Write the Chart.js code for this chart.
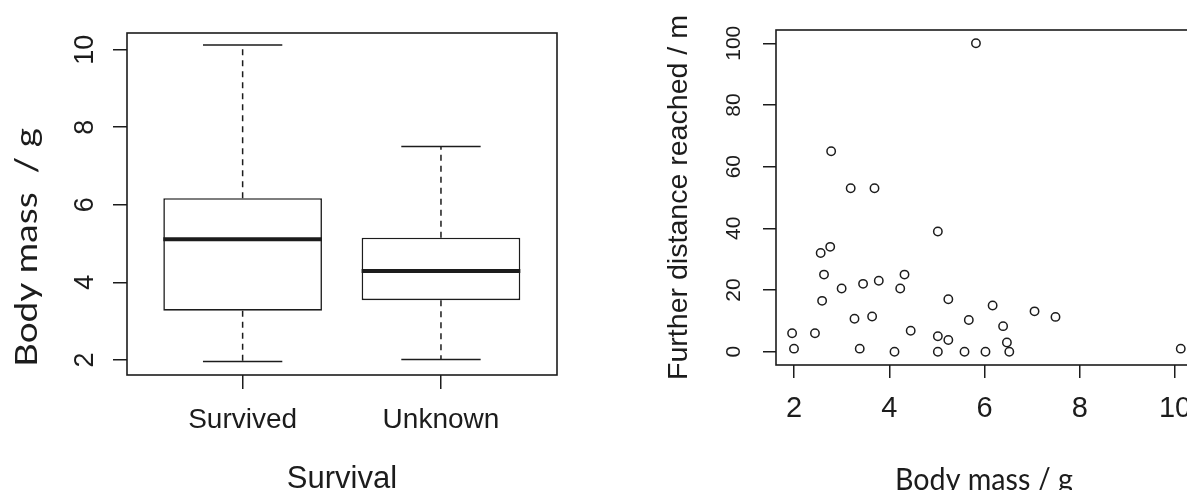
<!DOCTYPE html>
<html>
<head>
<meta charset="utf-8">
<script src="https://cdn.jsdelivr.net/npm/chart.js@4.4.1/dist/chart.umd.min.js"></script>
<style>
  html, body { margin: 0; padding: 0; background: #fff; overflow: hidden; width: 1187px; height: 490px; }
  canvas { position: absolute; top: 0; }
  #massBox { left: 0; }
  #massDistance { left: 640px; }
</style>
</head>
<body>
<canvas id="massBox" width="600" height="490"></canvas>
<canvas id="massDistance" width="600" height="490"></canvas>
<script>
// Body mass by survival group (boxplot summary, g)
const groups = ['Survived', 'Unknown'];
const groupPos = [1, 2];
const lowWhisker = [1.96, 2.01];
const lowerQuartile = [3.27, 3.54];
const medianMass = [5.11, 4.29];
const upperQuartile = [6.17, 5.15];
const highWhisker = [10.12, 7.5];
const massTicks = [2, 4, 6, 8, 10];

// Body mass (g) against furthest distance reached (m)
const bodyMass = [1.96, 2.00, 2.44, 2.56, 2.76, 2.78, 2.63, 2.59, 3.00, 3.19, 3.27, 3.38,
                  3.45, 3.64, 3.69, 3.78, 4.11, 4.23, 4.32, 4.45, 5.02, 5.02, 5.02, 5.24,
                  5.24, 5.58, 5.67, 5.82, 6.02, 6.17, 6.39, 6.47, 6.52, 7.05, 7.49, 10.12];
const distance = [6, 1, 6, 32, 34, 65, 25, 16.5, 20.5, 53, 10.7, 1,
                  22, 11.4, 53, 23, 0, 20.5, 25, 6.8, 39, 5, 0, 17,
                  3.8, 0, 10.3, 100, 0, 15, 8.3, 3, 0, 13.1, 11.3, 1];
const distanceTicks = [0, 20, 40, 60, 80, 100];
const bodyMassTicks = [2, 4, 6, 8, 10];

const INK = '#1c1c1c';
const R_FONT = '"Liberation Sans", Arial, sans-serif';
const DOC_FONT = 'Lato, "Open Sans", sans-serif';

function setTicks(values) {
  return scale => { scale.ticks = values.map(v => ({ value: v })); };
}

function tickGrid(len) {
  return { offset: false, drawOnChartArea: false, drawTicks: true, tickLength: len, color: INK, lineWidth: 1.5 };
}

function hText(ctx, text, x, y, font, targetLen) {
  ctx.save();
  ctx.translate(x, y);
  ctx.font = font;
  ctx.fillStyle = INK;
  ctx.textAlign = 'center';
  ctx.textBaseline = 'alphabetic';
  if (targetLen) ctx.scale(targetLen / ctx.measureText(text).width, 1);
  ctx.fillText(text, 0, 0);
  ctx.restore();
}

function vText(ctx, text, x, y, font, targetLen) {
  ctx.save();
  ctx.translate(x, y);
  ctx.rotate(-Math.PI / 2);
  ctx.font = font;
  ctx.fillStyle = INK;
  ctx.textAlign = 'center';
  ctx.textBaseline = 'alphabetic';
  if (targetLen) ctx.scale(targetLen / ctx.measureText(text).width, 1);
  ctx.fillText(text, 0, 0);
  ctx.restore();
}

function frame(chart) {
  const { ctx, chartArea: a } = chart;
  ctx.save();
  ctx.strokeStyle = INK;
  ctx.lineWidth = 1.6;
  ctx.strokeRect(a.left, a.top, a.right - a.left, a.bottom - a.top);
  ctx.restore();
}

// Whiskers, caps, medians and axis text for the boxplot
const boxPlugin = {
  id: 'boxParts',
  afterDatasetsDraw(chart) {
    const { ctx, scales: { x, y } } = chart;
    const bars = chart.getDatasetMeta(0).data;
    ctx.save();
    ctx.strokeStyle = INK;
    groupPos.forEach((g, i) => {
      const cx = x.getPixelForValue(g);
      const half = bars[i].width / 2;
      const cap = half / 2;
      ctx.lineWidth = 1.5;
      ctx.setLineDash([6, 5]);
      ctx.beginPath();
      ctx.moveTo(cx, y.getPixelForValue(upperQuartile[i]));
      ctx.lineTo(cx, y.getPixelForValue(highWhisker[i]));
      ctx.moveTo(cx, y.getPixelForValue(lowerQuartile[i]));
      ctx.lineTo(cx, y.getPixelForValue(lowWhisker[i]));
      ctx.stroke();
      ctx.setLineDash([]);
      ctx.beginPath();
      ctx.moveTo(cx - cap, y.getPixelForValue(highWhisker[i]));
      ctx.lineTo(cx + cap, y.getPixelForValue(highWhisker[i]));
      ctx.moveTo(cx - cap, y.getPixelForValue(lowWhisker[i]));
      ctx.lineTo(cx + cap, y.getPixelForValue(lowWhisker[i]));
      ctx.stroke();
      ctx.lineWidth = 4;
      ctx.beginPath();
      ctx.moveTo(cx - half, y.getPixelForValue(medianMass[i]));
      ctx.lineTo(cx + half, y.getPixelForValue(medianMass[i]));
      ctx.stroke();
    });
    ctx.restore();
    frame(chart);

    massTicks.forEach(v => vText(ctx, String(v), 93, y.getPixelForValue(v), `27px ${R_FONT}`));
    groups.forEach((name, i) => hText(ctx, name, x.getPixelForValue(groupPos[i]), 428, `28px ${R_FONT}`));
    hText(ctx, 'Survival', (chart.chartArea.left + chart.chartArea.right) / 2, 488, `31px ${R_FONT}`);
    vText(ctx, 'Body mass  / g', 37, 247.5, `30px ${DOC_FONT}`, 239);
  }
};

new Chart(document.getElementById('massBox'), {
  type: 'bar',
  data: {
    datasets: [{
      data: groupPos.map((g, i) => ({ x: g, y: [lowerQuartile[i], upperQuartile[i]] })),
      backgroundColor: '#ffffff',
      borderColor: INK,
      borderWidth: 1.6,
      borderSkipped: false,
      barPercentage: 0.8,
      categoryPercentage: 1
    }]
  },
  options: {
    responsive: false,
    animation: false,
    devicePixelRatio: 1,
    layout: { padding: { top: 33, right: 43, left: 0, bottom: 0 } },
    plugins: { legend: { display: false }, tooltip: { enabled: false } },
    scales: {
      x: {
        type: 'linear', min: 0.417, max: 2.585, offset: false,
        afterBuildTicks: setTicks(groupPos),
        afterFit: s => { s.height = 115; },
        ticks: { display: false },
        grid: tickGrid(14),
        border: { display: false }
      },
      y: {
        type: 'linear', min: 1.61, max: 10.43,
        afterBuildTicks: setTicks(massTicks),
        afterFit: s => { s.width = 127; },
        ticks: { display: false },
        grid: tickGrid(14),
        border: { display: false }
      }
    }
  },
  plugins: [boxPlugin]
});

// Frame and axis text for the scatter plot
const scatterPlugin = {
  id: 'scatterParts',
  beforeDatasetsDraw(chart) {
    frame(chart);
  },
  afterDatasetsDraw(chart) {
    const { ctx, scales: { x, y } } = chart;
    distanceTicks.forEach(v => vText(ctx, String(v), 100, y.getPixelForValue(v), `21px ${R_FONT}`));
    bodyMassTicks.forEach(v => hText(ctx, String(v), x.getPixelForValue(v), 416.5, `29px ${R_FONT}`));
    vText(ctx, 'Further distance reached / m', 47, (chart.chartArea.top + chart.chartArea.bottom) / 2, `28.5px ${R_FONT}`, 365);
    hText(ctx, 'Body mass / g', 344, 489.5, `30px ${DOC_FONT}`, 178);
  }
};

new Chart(document.getElementById('massDistance'), {
  type: 'scatter',
  data: {
    datasets: [{
      data: bodyMass.map((m, i) => ({ x: m, y: distance[i] })),
      pointStyle: 'circle',
      pointRadius: 4.2,
      pointBorderWidth: 1.5,
      pointBackgroundColor: 'rgba(0,0,0,0)',
      pointBorderColor: INK
    }]
  },
  options: {
    responsive: false,
    animation: false,
    devicePixelRatio: 1,
    layout: { padding: { top: 30, right: 44, left: 0, bottom: 0 } },
    plugins: { legend: { display: false }, tooltip: { enabled: false } },
    scales: {
      x: {
        type: 'linear', min: 1.622, max: 10.44,
        afterBuildTicks: setTicks(bodyMassTicks),
        afterFit: s => { s.height = 125; },
        ticks: { display: false },
        grid: tickGrid(13),
        border: { display: false }
      },
      y: {
        type: 'linear', min: -4.3, max: 104.3,
        afterBuildTicks: setTicks(distanceTicks),
        afterFit: s => { s.width = 136; },
        ticks: { display: false },
        grid: tickGrid(13),
        border: { display: false }
      }
    }
  },
  plugins: [scatterPlugin]
});
</script>
</body>
</html>
